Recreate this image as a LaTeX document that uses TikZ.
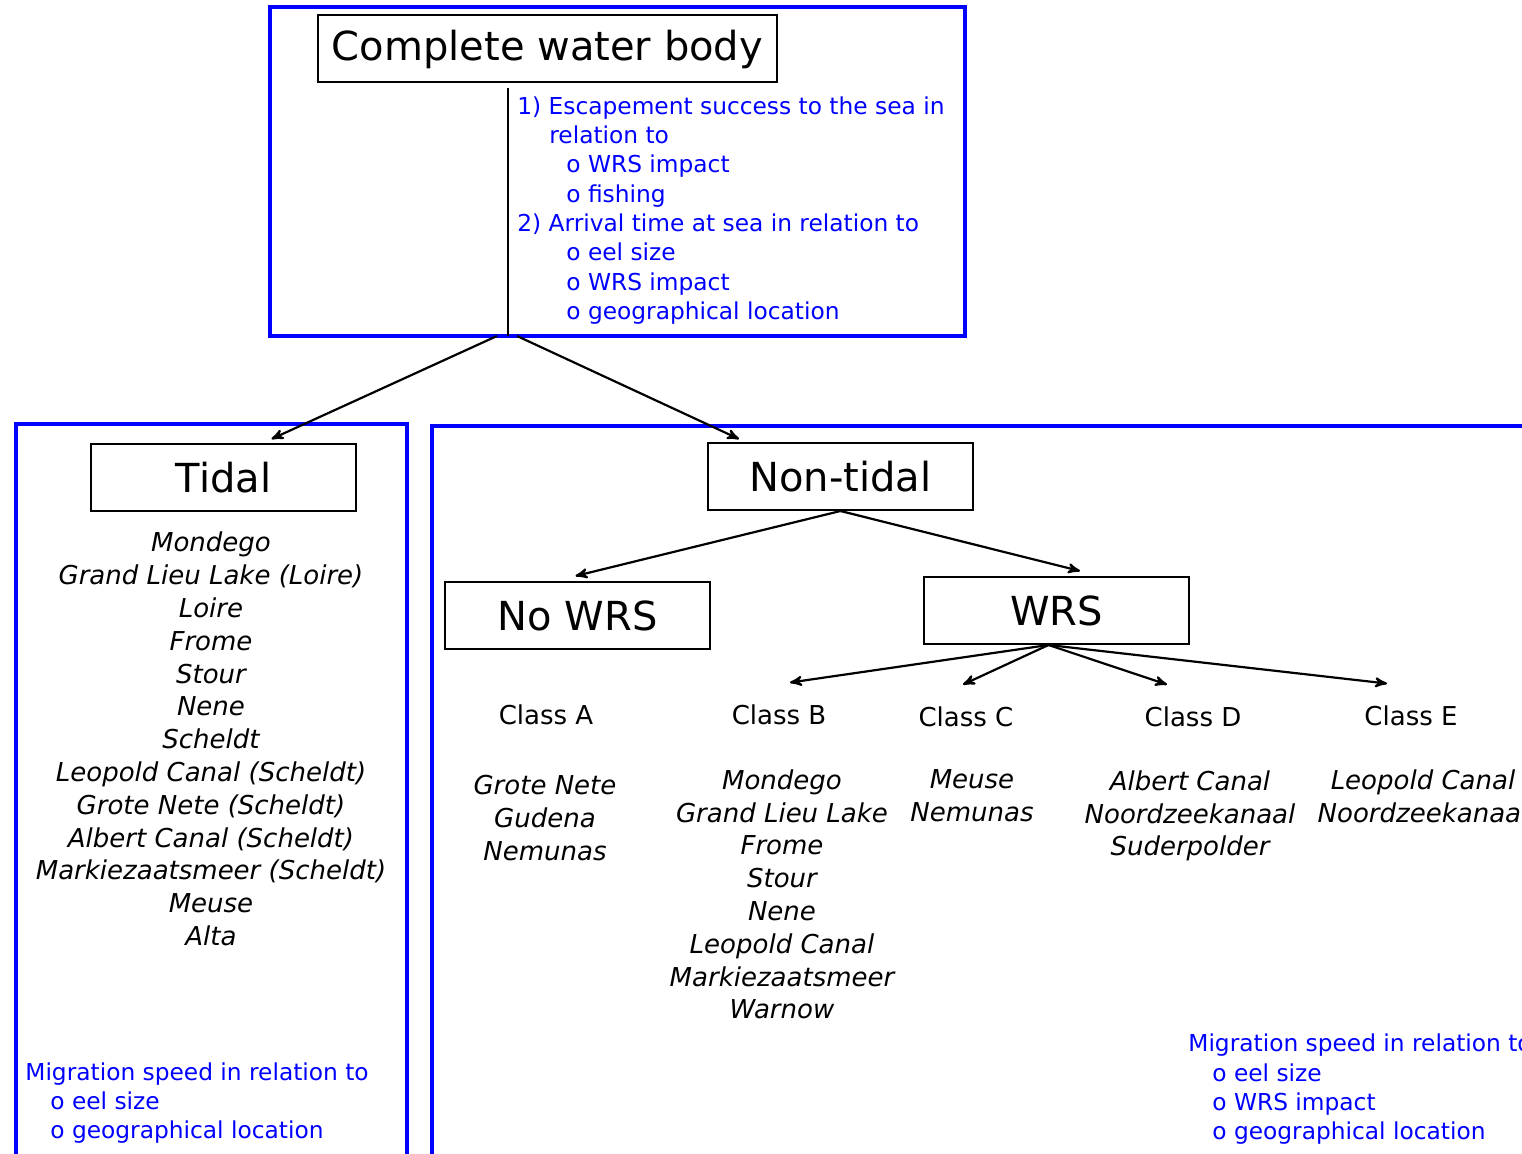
\documentclass[tikz,border=0pt]{standalone}
\usepackage{fontspec}
\setmainfont{DejaVu Sans}
\usetikzlibrary{arrows}

\begin{document}
\begin{tikzpicture}[x=0.5pt,y=-0.5pt,>=stealth',
	main node/.style={rectangle,draw,line width=1pt,minimum width=132.5pt,minimum height=33.5pt,font=\fontsize{20}{24}\selectfont},
	class node/.style={inner sep=0pt,font=\fontsize{13}{16}\selectfont},
	list node/.style={align=center,inner sep=0pt,font=\fontsize{13}{16.4}\selectfont\itshape},
	note/.style={align=left,anchor=west,inner sep=0pt,text=blue,font=\fontsize{11.65}{14.65}\selectfont},
	frame/.style={draw=blue,line width=2pt},
	link/.style={->,line width=1.1pt}]

	\useasboundingbox (0,0) rectangle (1522,1154);
	\clip (0,0) rectangle (1522,1154);

	% frames
	\draw[frame] (270,7) rectangle (965,336);
	\draw[frame] (16,424) rectangle (407,1200);
	\draw[frame] (432,426) rectangle (1600,1200);

	\node[main node,minimum width=229.5pt] (cwb) at (547.5,49) {Complete water body};
	\node[main node] (tidal) at (223.5,477.5) {Tidal};
	\node[main node] (nontidal) at (840.5,476.5) {Non-tidal};
	\node[main node] (nowrs) at (577.5,615.5) {No WRS};
	\node[main node] (wrs) at (1056.5,610.5) {WRS};

	\node[class node] (classA) at (546,715) {Class A};
	\node[class node] (classB) at (779,715) {Class B};
	\node[class node] (classC) at (966,717) {Class C};
	\node[class node] (classD) at (1193,717) {Class D};
	\node[class node] (classE) at (1411,716) {Class E};

	% rivers
	\node[list node] (tidallist) at (211,739) {Mondego\\Grand Lieu Lake (Loire)\\Loire\\Frome\\Stour\\Nene\\Scheldt\\Leopold Canal (Scheldt)\\Grote Nete (Scheldt)\\Albert Canal (Scheldt)\\Markiezaatsmeer (Scheldt)\\Meuse\\Alta};
	\node[list node] (listA) at (545,818) {Grote Nete\\Gudena\\Nemunas};
	\node[list node] (listB) at (782,894.5) {Mondego\\Grand Lieu Lake\\Frome\\Stour\\Nene\\Leopold Canal\\Markiezaatsmeer\\Warnow};
	\node[list node] (listC) at (972,795.5) {Meuse\\Nemunas};
	\node[list node] (listD) at (1190,816) {Albert Canal\\Noordzeekanaal\\Suderpolder};
	\node[list node] (listE) at (1423,796.5) {Leopold Canal\\Noordzeekanaal};

	% questions
	\node[note] (aims) at (517,210.5) {1) Escapement success to the sea in\\
		\hspace*{16pt}relation to\\
		\hspace*{24.5pt}o WRS impact\\
		\hspace*{24.5pt}o fishing\\
		2) Arrival time at sea in relation to\\
		\hspace*{24.5pt}o eel size\\
		\hspace*{24.5pt}o WRS impact\\
		\hspace*{24.5pt}o geographical location};
	\node[note] (tidalspeed) at (25,1103) {Migration speed in relation to\\
		\hspace*{12.5pt}o eel size\\
		\hspace*{12.5pt}o geographical location};
	\node[note] (wrsspeed) at (1188,1089.5) {Migration speed in relation to\\
		\hspace*{12pt}o eel size\\
		\hspace*{12pt}o WRS impact\\
		\hspace*{12pt}o geographical location};

	\coordinate (split) at (508,336);
	\draw[line width=0.75pt,shorten >=2.5pt] (split) -- (split |- cwb.south);

	\path[link]
	([xshift=-5.5pt]split) edge ([xshift=24pt,yshift=2pt]tidal.north)
	([xshift=4.5pt]split) edge ([xshift=16pt,yshift=1.5pt]nontidal.north west)
	(nontidal.south) edge ([xshift=-1pt,yshift=2.5pt]nowrs.north)
	(nontidal.south) edge ([xshift=11.75pt,yshift=2.5pt]wrs.north)
	([xshift=-4pt]wrs.south) edge ([xshift=5.5pt,yshift=11pt]classB.north)
	([xshift=-4pt]wrs.south) edge ([xshift=-1.5pt,yshift=11pt]classC.north)
	([xshift=-4pt]wrs.south) edge ([xshift=-13pt,yshift=11pt]classD.north)
	([xshift=-4pt]wrs.south) edge ([xshift=-12pt,yshift=11pt]classE.north);
\end{tikzpicture}
\end{document}
